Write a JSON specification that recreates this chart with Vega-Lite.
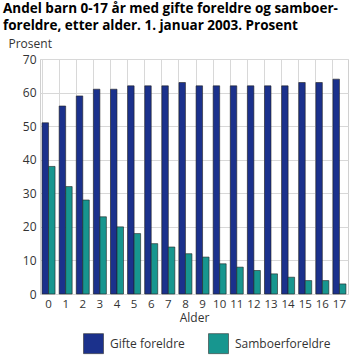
{
  "$schema": "https://vega.github.io/schema/vega-lite/v6.json",
  "width": 308,
  "height": 235,
  "autosize": {"type": "none"},
  "padding": {"left": 40, "top": 59, "right": 7, "bottom": 67},
  "config": {
    "font": "Open Sans",
    "view": {"stroke": "#d0d0d0", "strokeWidth": 1},
    "axis": {"labelFont": "Open Sans", "titleFont": "Open Sans", "labelColor": "#333", "titleColor": "#333"}
  },
  "title": {
    "text": ["Andel barn 0-17 år med gifte foreldre og samboer-", "foreldre, etter alder. 1. januar 2003. Prosent"],
    "anchor": "start",
    "frame": "group",
    "dx": -37,
    "offset": 5,
    "fontSize": 13.5,
    "fontWeight": "bold",
    "font": "Open Sans",
    "color": "#000",
    "lineHeight": 17
  },
  "data": {
    "values": [
      {"alder": "0", "type": "Gifte foreldre", "prosent": 51},
      {"alder": "1", "type": "Gifte foreldre", "prosent": 56},
      {"alder": "2", "type": "Gifte foreldre", "prosent": 59},
      {"alder": "3", "type": "Gifte foreldre", "prosent": 61},
      {"alder": "4", "type": "Gifte foreldre", "prosent": 61},
      {"alder": "5", "type": "Gifte foreldre", "prosent": 62},
      {"alder": "6", "type": "Gifte foreldre", "prosent": 62},
      {"alder": "7", "type": "Gifte foreldre", "prosent": 62},
      {"alder": "8", "type": "Gifte foreldre", "prosent": 63},
      {"alder": "9", "type": "Gifte foreldre", "prosent": 62},
      {"alder": "10", "type": "Gifte foreldre", "prosent": 62},
      {"alder": "11", "type": "Gifte foreldre", "prosent": 62},
      {"alder": "12", "type": "Gifte foreldre", "prosent": 62},
      {"alder": "13", "type": "Gifte foreldre", "prosent": 62},
      {"alder": "14", "type": "Gifte foreldre", "prosent": 62},
      {"alder": "15", "type": "Gifte foreldre", "prosent": 63},
      {"alder": "16", "type": "Gifte foreldre", "prosent": 63},
      {"alder": "17", "type": "Gifte foreldre", "prosent": 64},
      {"alder": "0", "type": "Samboerforeldre", "prosent": 38},
      {"alder": "1", "type": "Samboerforeldre", "prosent": 32},
      {"alder": "2", "type": "Samboerforeldre", "prosent": 28},
      {"alder": "3", "type": "Samboerforeldre", "prosent": 23},
      {"alder": "4", "type": "Samboerforeldre", "prosent": 20},
      {"alder": "5", "type": "Samboerforeldre", "prosent": 18},
      {"alder": "6", "type": "Samboerforeldre", "prosent": 15},
      {"alder": "7", "type": "Samboerforeldre", "prosent": 14},
      {"alder": "8", "type": "Samboerforeldre", "prosent": 12},
      {"alder": "9", "type": "Samboerforeldre", "prosent": 11},
      {"alder": "10", "type": "Samboerforeldre", "prosent": 9},
      {"alder": "11", "type": "Samboerforeldre", "prosent": 8},
      {"alder": "12", "type": "Samboerforeldre", "prosent": 7},
      {"alder": "13", "type": "Samboerforeldre", "prosent": 6},
      {"alder": "14", "type": "Samboerforeldre", "prosent": 5},
      {"alder": "15", "type": "Samboerforeldre", "prosent": 4},
      {"alder": "16", "type": "Samboerforeldre", "prosent": 4},
      {"alder": "17", "type": "Samboerforeldre", "prosent": 3}
    ]
  },
  "mark": {"type": "bar", "stroke": "#222", "strokeWidth": 0.6},
  "encoding": {
    "x": {
      "field": "alder",
      "type": "ordinal",
      "sort": null,
      "scale": {"paddingInner": 0.24, "paddingOuter": 0.12},
      "axis": {
        "title": "Alder",
        "titleFontSize": 12,
        "titleFontWeight": "normal",
        "titlePadding": 3,
        "labelAngle": 0,
        "labelFontSize": 11.5,
        "labelPadding": 4,
        "ticks": false,
        "domain": false,
        "grid": true,
        "gridColor": "#d8d8d8",
        "bandPosition": 0
      }
    },
    "xOffset": {"field": "type", "type": "nominal", "sort": ["Gifte foreldre", "Samboerforeldre"]},
    "y": {
      "field": "prosent",
      "type": "quantitative",
      "scale": {"domain": [0, 70]},
      "axis": {
        "title": "Prosent",
        "titleAngle": 0,
        "titleAlign": "left",
        "titleBaseline": "alphabetic",
        "titleX": -32,
        "titleY": -12,
        "titleFontSize": 12,
        "titleFontWeight": "normal",
        "labelFontSize": 12,
        "labelPadding": 4,
        "tickCount": 7,
        "ticks": false,
        "domain": false,
        "gridColor": "#d8d8d8"
      }
    },
    "color": {
      "field": "type",
      "type": "nominal",
      "scale": {"domain": ["Gifte foreldre", "Samboerforeldre"], "range": ["#1b318c", "#17968f"]},
      "legend": {
        "title": null,
        "orient": "none",
        "direction": "horizontal",
        "legendX": 43,
        "legendY": 274,
        "symbolType": "square",
        "symbolSize": 400,
        "symbolStrokeColor": "#333",
        "symbolStrokeWidth": 0.6,
        "labelFontSize": 12,
        "labelFont": "Open Sans",
        "labelColor": "#333",
        "labelOffset": 6,
        "columnPadding": 22
      }
    }
  }
}
